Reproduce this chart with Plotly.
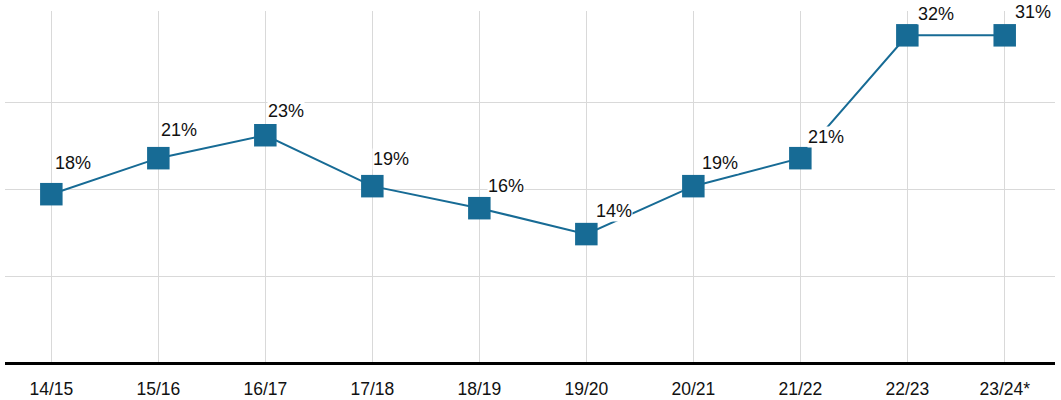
import plotly.graph_objects as go

# ---- data ----
seasons = ["14/15", "15/16", "16/17", "17/18", "18/19", "19/20", "20/21", "21/22", "22/23", "23/24*"]
season_pos = [2014, 2015, 2016, 2017, 2018, 2019, 2020, 2021, 2022, 2022.91]
share_pct = [17.82, 20.96, 22.96, 18.52, 16.60, 14.34, 18.52, 20.96, 31.67, 31.67]
share_labels = ["18%", "21%", "23%", "19%", "16%", "14%", "19%", "21%", "32%", "31%"]

# ---- label placement (pixel shifts, styling only) ----
label_dx = [4, 3, 3, 1, 9, 10, 9, 8, 11, 10]
label_dy = [31, 28, 24, 27, 22, 23, 23, 21, 21, 23]

LINE_COLOR = "#176b95"
FONT = "Liberation Sans, Arial, Helvetica, sans-serif"

fig = go.Figure()
fig.add_trace(go.Scatter(
    x=season_pos, y=share_pct,
    mode="lines+markers",
    line=dict(color=LINE_COLOR, width=2),
    marker=dict(symbol="square", size=22.5, color=LINE_COLOR, line=dict(width=0)),
    hoverinfo="skip",
    showlegend=False,
))

for x, y, t, dx, dy in zip(season_pos, share_pct, share_labels, label_dx, label_dy):
    fig.add_annotation(
        x=x, y=y, text=t, showarrow=False,
        xanchor="left", yanchor="middle",
        xshift=dx - 1, yshift=dy,
        font=dict(family=FONT, size=18, color="#111111"),
        bgcolor="white", borderpad=0,
    )

fig.update_layout(
    width=1061, height=400,
    margin=dict(l=5, r=6, t=11, b=37.7, autoexpand=False),
    paper_bgcolor="white", plot_bgcolor="white",
    font=dict(family=FONT, color="#111111"),
    xaxis=dict(
        range=[2013.567, 2023.380],
        tickmode="array", tickvals=season_pos, ticktext=seasons,
        showgrid=True, gridcolor="#d9d9d9", gridwidth=1,
        zeroline=False,
        showline=True, linecolor="#000000", linewidth=3,
        ticks="outside", ticklen=9, tickcolor="rgba(0,0,0,0)",
        tickfont=dict(family=FONT, size=17.5, color="#111111"),
        automargin=False,
        fixedrange=True,
    ),
    yaxis=dict(
        range=[3.19, 33.79],
        tickmode="array", tickvals=[10.62, 18.20, 25.78],
        showticklabels=False,
        showgrid=True, gridcolor="#d9d9d9", gridwidth=1,
        zeroline=False, showline=False,
        automargin=False,
        fixedrange=True,
    ),
)

fig.write_html(
    "out.html",
    config={"displayModeBar": False},
    post_script="document.body.style.margin='0px';document.body.style.overflow='hidden';",
)
